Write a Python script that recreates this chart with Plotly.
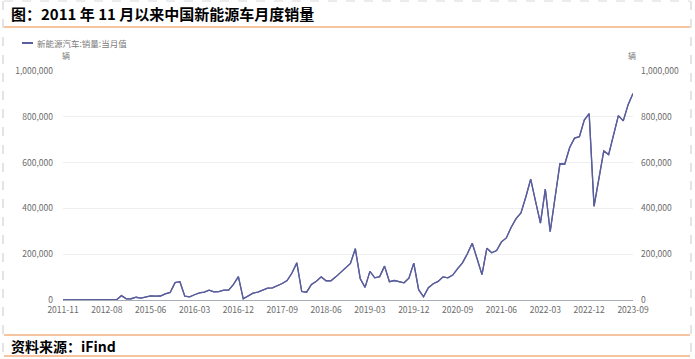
import plotly.graph_objects as go
import pandas as pd

# ---------------- data ----------------
months_a = [p.strftime("%Y-%m") for p in pd.period_range("2011-11", "2012-10", freq="M")]
months_b = ["2014-12"]
months_c = [p.strftime("%Y-%m") for p in pd.period_range("2015-01", "2023-09", freq="M")]
categories = months_a + months_b + months_c

sales = [
    800, 1200, 500, 700, 900, 1000, 1200, 1300, 1100, 1300, 1200, 1500,   # 2011-11 .. 2012-10
    19000,                                                                 # 2014-12
    5000, 5500, 12000, 8000, 12000,                                        # 2015-01 .. 05
    18000, 16500, 17500, 27000, 33000, 76000, 80000,                       # 2015-06 .. 12
    16500, 14000, 23000, 31000, 34000, 43000, 36000, 37000, 43000, 43000, 68000, 102000,   # 2016
    5000, 17000, 30000, 34000, 43000, 52000, 53000, 62000, 72000, 85000, 118000, 162000,   # 2017
    37000, 34000, 68000, 82000, 101000, 84000, 84000, 101000, 121000, 137000, 160000, 224000,  # 2018
    94000, 55000, 125000, 97000, 102000, 148000, 80000, 85000, 80000, 75000, 95000, 161000,  # 2019
    45000, 14000, 54000, 71000, 81000, 101000, 97000, 109000, 137000, 162000, 202000, 248000,  # 2020
    180000, 111000, 226000, 206000, 216000, 254000, 271000, 318000, 355000, 380000, 450000, 528000,  # 2021
    431000, 336000, 484000, 298000, 447000, 595000, 594000, 666000, 707000, 713000, 786000, 814000,  # 2022
    409000, 527000, 651000, 635000, 717000, 805000, 782000, 853000, 902000,  # 2023
]

series_name = "新能源汽车:销量:当月值"
unit = "辆"
title_text = "图：2011 年 11 月以来中国新能源车月度销量"
source_text = "资料来源：iFind"
tick_labels = categories[::9]
y_ticks = [0, 200000, 400000, 600000, 800000, 1000000]

# ---------------- layout helpers ----------------
W, H = 695, 359
L, R, T, B = 63, 633, 71, 300

def px(x):
    return (x - L) / (R - L)

def py(y):
    return (B - y) / (B - T)

LINE = "#5a5e9c"
GRAY = "#6b6b6b"
ORANGE = "#f4b183"
FONT = "Noto Sans CJK SC"

fig = go.Figure()
fig.add_trace(go.Scatter(x=categories, y=sales, mode="lines", name=series_name,
                         line=dict(color=LINE, width=1.3), showlegend=False))
fig.add_trace(go.Scatter(x=categories, y=sales, mode="lines", yaxis="y2",
                         line=dict(color=LINE, width=1.3), showlegend=False,
                         hoverinfo="skip"))

axis_font = dict(family=FONT, size=8.5, color=GRAY)
fig.update_layout(
    width=W, height=H,
    margin=dict(l=L, r=W - R, t=T, b=H - B, pad=0),
    paper_bgcolor="white", plot_bgcolor="white",
    font=dict(family=FONT),
    xaxis=dict(type="category", range=[0, len(categories) - 1],
               tickvals=tick_labels, ticktext=tick_labels,
               showgrid=False, showline=True, linecolor="#a9adb8", linewidth=1,
               ticks="", tickfont=axis_font, tickangle=0, zeroline=False,
               ticklabelstandoff=2),
    yaxis=dict(range=[0, 1000000], tickvals=y_ticks, tickformat=",",
               showgrid=True, gridcolor="#efefef", gridwidth=1,
               zeroline=False, showline=False, ticks="",
               tickfont=axis_font, ticklabelstandoff=9),
    yaxis2=dict(range=[0, 1000000], tickvals=y_ticks, tickformat=",",
                overlaying="y", side="right", showgrid=False,
                zeroline=False, showline=False, ticks="",
                tickfont=axis_font, ticklabelstandoff=7),
)

shapes = []
# frame lines
for yy in (27, 335, 356):
    shapes.append(dict(type="line", xref="paper", yref="paper",
                       x0=px(4), x1=px(690), y0=py(yy), y1=py(yy),
                       line=dict(color=ORANGE, width=1.5)))
for xx in (3, 691):
    shapes.append(dict(type="line", xref="paper", yref="paper",
                       x0=px(xx), x1=px(xx), y0=py(1), y1=py(358),
                       line=dict(color="#c8c8c8", width=1, dash="dash")))
shapes.append(dict(type="line", xref="paper", yref="paper",
                   x0=px(4), x1=px(690), y0=py(1), y1=py(1),
                   line=dict(color="#d8d8d8", width=1, dash="dash")))
# legend sample
shapes.append(dict(type="line", xref="paper", yref="paper",
                   x0=px(22), x1=px(33), y0=py(43), y1=py(43),
                   line=dict(color=LINE, width=2)))
fig.update_layout(shapes=shapes)

ann = [
    dict(text="<b>" + title_text + "</b>", x=px(9), y=py(13), xanchor="left", yanchor="middle",
         font=dict(family=FONT, size=15, color="black")),
    dict(text="<b>" + source_text + "</b>", x=px(9), y=py(346), xanchor="left", yanchor="middle",
         font=dict(family=FONT, size=14, color="black")),
    dict(text=series_name, x=px(35), y=py(43), xanchor="left", yanchor="middle",
         font=dict(family=FONT, size=8.5, color="#7a7a7a")),
    dict(text=unit, x=px(60), y=py(55), xanchor="left", yanchor="middle",
         font=dict(family=FONT, size=8, color="#7a7a7a")),
    dict(text=unit, x=px(626), y=py(55), xanchor="left", yanchor="middle",
         font=dict(family=FONT, size=8, color="#7a7a7a")),
]
for a in ann:
    a.update(xref="paper", yref="paper", showarrow=False)
fig.update_layout(annotations=ann)

fig.write_html("out.html",
               config={"displayModeBar": False},
               post_script="document.body.style.margin='0';document.body.style.overflow='hidden';")
